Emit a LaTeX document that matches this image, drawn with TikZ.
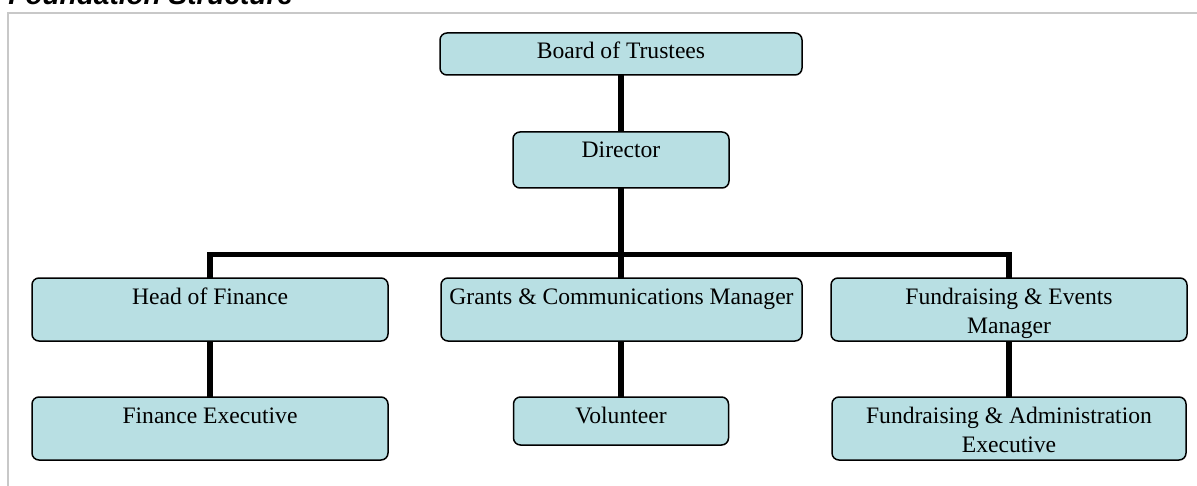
\documentclass[tikz,border=0pt]{standalone}
\usepackage{fontspec}
\setmainfont{Liberation Serif}
\newfontfamily\headfont{Liberation Sans}
\usepackage{xcolor}
\usepackage{tikz}
\usetikzlibrary{positioning,calc}
\definecolor{boxfill}{RGB}{184,223,227}
\definecolor{framegray}{RGB}{200,200,200}
\tikzset{
  orgbox/.style={draw=black, fill=boxfill, line width=0.75pt, rounded corners=3.5pt, align=center,
    anchor=north, inner xsep=2pt, inner ysep=0pt, outer sep=0pt, text height=13pt,
    font=\fontsize{11.8pt}{14.5pt}\selectfont},
  % two-line boxes sit on the last line's baseline
  orgboxtwo/.style={orgbox, text height=27.5pt, text depth=4pt},
  orglink/.style={line width=2.8pt, line join=miter},
  pagetitle/.style={anchor=base west, inner sep=0pt, font=\headfont\bfseries\itshape\fontsize{14pt}{16pt}\selectfont},
  pageframe/.style={draw=framegray, line width=1pt}
}

\begin{document}
\begin{tikzpicture}[x=0.5pt,y=-0.5pt]
\useasboundingbox (0,0) rectangle (1197,486);
% title and sheet frame
\node[pagetitle] (title) at (8,5) {Foundation Structure};
\draw[pageframe] (8,486) |- (1197,13);

% top of the tree
\node[orgbox, minimum width=181pt, text depth=8pt] (board) at (621,33) {Board of Trustees};
\node[orgbox, minimum width=108pt, text depth=15pt] (director) at (621,132) {Director};

% managers
\node[orgbox, minimum width=178pt, text depth=18.5pt] (finance) at (210,278) {Head of Finance};
\node[orgbox, minimum width=180.5pt, text depth=18.5pt] (grants) at (621.5,278) {Grants \& Communications Manager};
\node[orgboxtwo, minimum width=178pt] (events) at (1009,278) {Fundraising \& Events\\Manager};

% staff
\node[orgbox, minimum width=178pt, text depth=18.5pt] (finexec) at (210,397) {Finance Executive};
\node[orgbox, minimum width=107.5pt, text depth=11pt] (volunteer) at (621,397) {Volunteer};
\node[orgboxtwo, minimum width=177pt] (adminexec) at (1009,397) {Fundraising \& Administration\\Executive};

% reporting lines
\coordinate (bus) at (621,254.5);
\draw[orglink] (board) -- (director);
\draw[orglink] (director.south) -- (director.south |- grants.north);
\draw[orglink] (finance.north) |- (bus) -| (events.north);
\draw[orglink] (finance) -- (finexec);
\draw[orglink] (grants.south -| volunteer.north) -- (volunteer);
\draw[orglink] (events) -- (adminexec);
\end{tikzpicture}
\end{document}
